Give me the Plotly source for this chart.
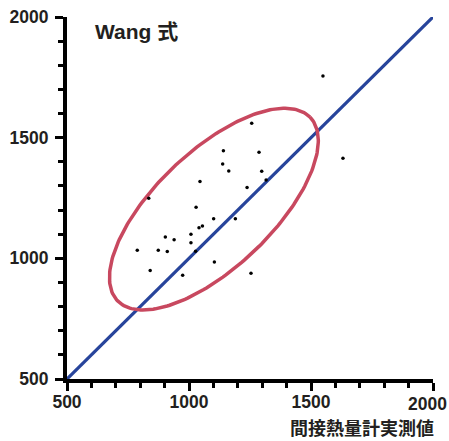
import numpy as np
import plotly.graph_objects as go

# Measured values (x: 間接熱量計実測値, y: Wang 式)
measured = [1257, 1141, 1287, 1138, 1163, 1298, 1316, 1045, 1238, 835,
            1029, 1101, 1190, 1055, 1041, 903, 939, 1008, 1008, 788,
            874, 911, 1027, 1104, 841, 974, 1254, 1549, 1631]
predicted = [1560, 1446, 1440, 1391, 1362, 1361, 1325, 1318, 1293, 1249,
             1212, 1164, 1164, 1134, 1127, 1088, 1077, 1100, 1065, 1033,
             1033, 1028, 1029, 985, 950, 930, 938, 1756, 1415]

identity = [500, 2000]
major_ticks = [500, 1000, 1500, 2000]
tick_labels = ["500", "1000", "1500", "2000"]

# Ellipse annotation parameters (data units)
ell_center = (1102, 1204)
ell_axes = (548, 240)
ell_angle_deg = 44

title_text = "Wang 式"
x_title = "間接熱量計実測値"

RED = "#c8485f"
BLUE = "#27449b"
TXT = "#231f20"
TICKFONT = dict(family="Liberation Sans, Arial", size=17.5, color=TXT, weight="bold")

t = np.linspace(0, 2 * np.pi, 241)
th = np.deg2rad(ell_angle_deg)
ex = ell_center[0] + ell_axes[0] * np.cos(t) * np.cos(th) - ell_axes[1] * np.sin(t) * np.sin(th)
ey = ell_center[1] + ell_axes[0] * np.cos(t) * np.sin(th) + ell_axes[1] * np.sin(t) * np.cos(th)

fig = go.Figure()
fig.add_trace(go.Scatter(x=identity, y=identity, mode="lines",
                         line=dict(color=BLUE, width=3.2), hoverinfo="skip"))
fig.add_trace(go.Scatter(x=ex, y=ey, mode="lines",
                         line=dict(color=RED, width=3.5), hoverinfo="skip"))
fig.add_trace(go.Scatter(x=measured, y=predicted, mode="markers",
                         marker=dict(color="black", size=3.5)))

axis_common = dict(
    range=[500, 2000],
    tickvals=major_ticks,
    ticks="outside", ticklen=8, tickwidth=2.5, tickcolor="black",
    showline=True, linewidth=4, linecolor="black",
    showgrid=False, zeroline=False, automargin=False,
    tickfont=TICKFONT,
    minor=dict(dtick=100, tick0=500, ticks="outside", ticklen=5, tickwidth=2.5,
               tickcolor="black", showgrid=False),
)

# last x label is drawn as an annotation so it can be nudged inside the page
x_ticktext = tick_labels[:-1] + [""]

fig.update_layout(
    width=449, height=441,
    margin=dict(l=67, r=16, t=17, b=62),
    paper_bgcolor="white", plot_bgcolor="white",
    showlegend=False,
    xaxis=dict(**axis_common, ticktext=x_ticktext, ticklabelstandoff=-4),
    yaxis=dict(**axis_common, ticktext=tick_labels, ticklabelstandoff=3),
    annotations=[
        dict(text=title_text, xref="x", yref="y", x=606, y=1942,
             xanchor="left", yanchor="middle", showarrow=False,
             font=dict(family="Liberation Sans, Noto Sans CJK JP", size=21,
                       color=TXT, weight="bold")),
        dict(text=tick_labels[-1], xref="x", yref="paper", x=major_ticks[-1], y=-0.069,
             xanchor="center", yanchor="middle", xshift=-6, showarrow=False,
             font=TICKFONT),
        dict(text=x_title, xref="paper", yref="paper", x=1, y=-0.1326,
             xanchor="right", yanchor="middle", xshift=3, showarrow=False,
             font=dict(family="Noto Sans CJK JP", size=18, color=TXT, weight="bold")),
    ],
)

fig.write_html("out.html", config={"displayModeBar": False},
               post_script="document.body.style.margin='0';document.body.style.overflow='hidden';")
